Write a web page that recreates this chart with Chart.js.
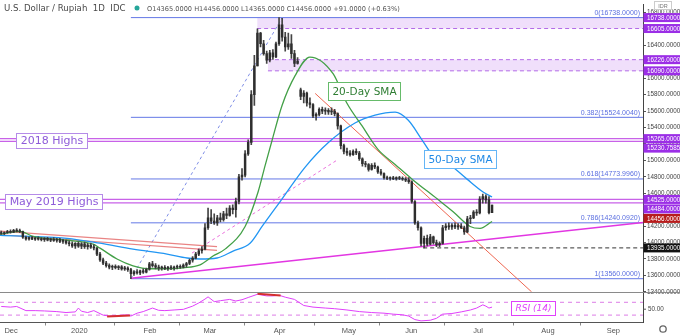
<!DOCTYPE html>
<html>
<head>
<meta charset="utf-8">
<title>USD/IDR</title>
<script src="https://cdn.jsdelivr.net/npm/chart.js@4.4.1/dist/chart.umd.min.js"></script>
<style>
  html, body { margin: 0; background: #ffffff; }
  canvas { display: block; }
</style>
</head>
<body>
<canvas id="usdidr" width="680" height="336"></canvas>
<script>
// daily USD/IDR, bar 0 = 25 Nov 2019 ... bar 159 = 10 Jul 2020 (holidays skipped)
const opens = [
  14120,14110,14120,14135,14125,14150,14140,14135,14065,14045,
  14060,14040,14055,14040,14035,14050,14030,14040,14025,14035,
  14015,14020,13995,13985,13960,13990,13955,13985,13950,13970,
  13945,13935,13860,13790,13750,13720,13700,13710,13695,13705,
  13680,13690,13670,13620,13645,13630,13655,13640,13675,13740,
  13720,13700,13690,13700,13685,13695,13690,13700,13705,13700,
  13725,13745,13785,13810,13860,13900,13920,14180,14300,14260,
  14240,14300,14280,14350,14330,14420,14400,14500,14800,14820,
  15080,15220,15800,16150,16550,16420,16300,16220,16310,16260,
  16420,16650,16500,16380,16420,16300,16180,15860,15780,15820,
  15700,15680,15540,15560,15620,15600,15610,15590,15600,15570,
  15420,15180,15110,15090,15070,15110,15090,15020,14960,14950,
  14890,14940,14920,14860,14840,14790,14780,14785,14775,14790,
  14780,14770,14760,14740,14500,14240,14180,13990,14050,13980,
  14070,14000,13970,13990,14180,14200,14190,14210,14190,14200,
  14180,14130,14290,14300,14370,14360,14530,14560,14520,14365
];
const highs = [
  14140,14130,14150,14155,14160,14170,14165,14140,14080,14070,
  14075,14065,14070,14060,14060,14065,14055,14060,14050,14050,
  14040,14030,14020,14010,14000,14010,14000,14005,13990,13995,
  13975,13940,13880,13810,13770,13740,13725,13730,13720,13720,
  13710,13705,13685,13660,13670,13665,13680,13690,13760,13770,
  13745,13725,13715,13720,13710,13720,13715,13725,13730,13740,
  13760,13800,13830,13880,13920,13950,14230,14420,14400,14350,
  14330,14360,14380,14420,14450,14460,14540,14830,14900,15120,
  15250,15850,16280,16600,16560,16460,16330,16340,16350,16440,
  16738,16730,16560,16550,16530,16340,16250,15880,15850,15830,
  15760,15690,15580,15640,15650,15640,15630,15640,15620,15580,
  15430,15200,15150,15120,15130,15140,15110,15030,14990,14960,
  14960,14970,14930,14890,14850,14810,14800,14805,14800,14805,
  14800,14790,14790,14750,14510,14260,14190,14080,14090,14100,
  14080,14030,14010,14210,14230,14240,14230,14240,14230,14230,
  14200,14320,14330,14390,14400,14560,14590,14580,14560,14456
];
const lows = [
  14100,14095,14110,14115,14120,14130,14120,14050,14030,14030,
  14035,14025,14030,14020,14015,14020,14010,14015,14005,14000,
  13990,13980,13960,13940,13930,13940,13925,13930,13920,13930,
  13910,13840,13770,13730,13700,13680,13670,13680,13670,13665,
  13660,13650,13560,13600,13615,13610,13625,13630,13665,13700,
  13680,13660,13665,13670,13660,13670,13665,13680,13685,13690,
  13700,13730,13760,13800,13840,13870,13910,14160,14230,14220,
  14210,14250,14260,14290,14320,14350,14310,14470,14760,14800,
  15060,15190,15670,16150,16380,16280,16180,16200,16230,16250,
  16400,16450,16330,16350,16240,16140,16170,15740,15700,15660,
  15640,15520,15490,15540,15570,15560,15560,15555,15540,15380,
  15140,15080,15060,15050,15060,15070,15000,14930,14920,14870,
  14880,14900,14840,14820,14770,14765,14760,14765,14760,14765,
  14755,14740,14720,14480,14220,14150,13960,13935,13960,13970,
  13980,13950,13950,13980,14150,14160,14160,14170,14160,14170,
  14100,14120,14230,14290,14330,14350,14480,14480,14350,14365
];
const closes = [
  14110,14120,14135,14125,14150,14140,14135,14065,14045,14060,
  14040,14055,14040,14035,14050,14030,14040,14025,14035,14015,
  14020,13995,13985,13960,13990,13955,13985,13950,13970,13945,
  13935,13860,13790,13750,13720,13700,13710,13695,13705,13680,
  13690,13670,13620,13645,13630,13655,13640,13675,13740,13720,
  13700,13690,13700,13685,13695,13690,13700,13705,13700,13725,
  13745,13785,13810,13860,13900,13920,14180,14300,14260,14240,
  14300,14280,14350,14330,14420,14400,14500,14800,14820,15080,
  15220,15800,16150,16550,16420,16300,16220,16310,16260,16420,
  16650,16500,16380,16420,16300,16180,16210,15780,15820,15700,
  15680,15540,15560,15620,15600,15610,15590,15600,15570,15420,
  15180,15110,15090,15070,15110,15090,15020,14960,14950,14890,
  14940,14920,14860,14840,14790,14780,14785,14775,14790,14780,
  14770,14760,14740,14500,14240,14180,13990,14050,13980,14070,
  14000,13970,13990,14180,14200,14190,14210,14190,14200,14180,
  14130,14290,14300,14370,14360,14530,14560,14520,14365,14456
];

// moving averages and RSI, read at bar positions
const sma20Bars = [-0.4, 6.1, 10.3, 21.3, 29.8, 32, 37.5, 42.7, 48.2, 53.7, 58.9, 64.4, 68.6, 72.5, 79,
  83.2, 85.5, 87.7, 91, 95.2, 100, 107.5, 112, 116.9, 122.1, 127.6, 133.1, 141.2, 146.4, 151.9, 155.1, 159];
const sma20Values = [14100, 14136, 14076, 14028, 13980, 13932, 13800, 13717, 13681, 13681, 13693, 13729, 13836, 13920, 14196,
  14616, 14940, 15239, 15671, 16031, 16258, 16055, 15695, 15419, 15131, 14951, 14772, 14532, 14376, 14196, 14172, 14256];
const sma50Bars = [-0.4, 21.3, 32, 42.7, 53.7, 60.2, 64.4, 69.9, 75.1, 80.6, 84.5, 90.3, 98.4, 105.9, 114.6,
  121.1, 127.6, 131.8, 136.3, 139.6, 144.4, 150.9, 156.1, 159];
const sma50Values = [14088, 14052, 13992, 13920, 13860, 13812, 13800, 13812, 13896, 13992, 14196, 14496, 14916, 15215, 15455,
  15551, 15587, 15491, 15251, 15071, 14975, 14772, 14616, 14556];
const rsiBars = [0, 3, 5, 8, 11, 14, 18, 21, 24, 25, 26, 28, 30, 33, 35, 38, 41, 42, 44, 46,
  49, 51, 53, 56, 59, 62, 64, 66, 67, 69, 71, 74, 76, 78, 80, 83, 86, 88, 90, 92,
  95, 98, 101, 105, 108, 112, 116, 120, 124, 127, 130, 132, 134, 136, 139, 141, 143, 146, 149, 152,
  154, 156, 157, 158, 159];
const rsiValues = [57, 55, 57, 44, 44, 43, 41, 38, 40, 52, 42, 38, 44, 30, 27, 29, 31, 27, 36, 41,
  52, 45, 44, 46, 48, 58, 68, 80, 87, 72, 75, 79, 74, 78, 85, 95, 90, 90, 92, 86,
  79, 60, 55, 52, 50, 46, 41, 38, 36, 33, 31, 27, 16, 12, 14, 20, 33, 35, 40, 46,
  52, 62, 58, 52, 55];

// drawn levels
const fibNames = ['0', '0.382', '0.618', '0.786', '1'];
const fibLevels = [16738, 15524.004, 14773.996, 14240.092, 13560];
const highs2018 = [15265, 15230.7585];
const highsMay2019 = [14525, 14484];
const zoneTop = [16738, 16226];
const zoneBottom = [16605, 16090];
const zoneStart = [82.9, 86.4];
const supportLevel = 13935;

// right-axis value tags
const markerValues = [16738, 16605, 16226, 16090, 15265, 15230.7585, 14525, 14484, 14456, 13935];
const markerColors = ['#9b2ee6', '#9b2ee6', '#9b2ee6', '#9b2ee6', '#9b2ee6', '#9b2ee6', '#9b2ee6', '#9b2ee6', '#b71c1c', '#111111'];

// axes
const monthBars = [3.2, 25.3, 48.2, 67.6, 90.2, 112.6, 132.8, 154.5, 177.1, 198.3];
const monthLabels = ['Dec', '2020', 'Feb', 'Mar', 'Apr', 'May', 'Jun', 'Jul', 'Aug', 'Sep'];
const priceTicks = [13400, 13600, 13800, 14000, 14200, 14400, 14600, 14800, 15000, 15200,
  15400, 15600, 15800, 16000, 16200, 16400, 16600, 16800];

const X_END = 207.9;
const zoneFill = 'rgba(200,140,240,0.28)';

function seg(x1, y1, x2, y2) {
  return [{ x: x1, y: y1 }, { x: x2, y: y2 }];
}
function lineSet(data, color, extra) {
  return Object.assign({
    type: 'line', data: data, borderColor: color, borderWidth: 1,
    pointRadius: 0, fill: false, tension: 0, order: 8
  }, extra || {});
}

const datasets = [
  lineSet(seg(zoneStart[0], zoneTop[0], X_END, zoneTop[0]), 'rgba(0,0,0,0)', { borderWidth: 0, order: 20 }),
  lineSet(seg(zoneStart[0], zoneBottom[0], X_END, zoneBottom[0]), '#b36ae8',
    { borderDash: [4, 3], fill: '-1', backgroundColor: zoneFill, order: 20 }),
  lineSet(seg(zoneStart[1], zoneTop[1], X_END, zoneTop[1]), '#b36ae8', { borderDash: [4, 3], order: 20 }),
  lineSet(seg(zoneStart[1], zoneBottom[1], X_END, zoneBottom[1]), '#b36ae8',
    { borderDash: [4, 3], fill: '-1', backgroundColor: zoneFill, order: 20 }),
  ...highs2018.map(v => lineSet(seg(-0.4, v, X_END, v), '#c862e8', { borderWidth: 1.2, order: 12 })),
  ...highsMay2019.map(v => lineSet(seg(-0.4, v, X_END, v), '#c862e8', { borderWidth: 1.2, order: 12 })),
  ...fibLevels.map(v => lineSet(seg(42, v, X_END, v), '#6478e6', { order: 12 })),
  lineSet(seg(42, fibLevels[4], 91, fibLevels[0]), '#7f8ee6', { borderDash: [3, 3], order: 10 }),
  lineSet(seg(136.7, supportLevel, X_END, supportLevel), '#333333', { borderDash: [4, 3], order: 10 }),
  // trend lines
  lineSet(seg(42, 13565, X_END, 14245), '#e236e2', { borderWidth: 1.6, order: 9 }),
  lineSet(seg(-0.4, 14140, 69.9, 13950), 'rgba(229,110,110,0.85)', { borderWidth: 1.2, order: 9 }),
  lineSet(seg(-0.4, 14095, 69.9, 13905), 'rgba(229,110,110,0.85)', { borderWidth: 1.2, order: 9 }),
  lineSet(seg(61.8, 13872, 109.1, 15011), '#ea6fdc', { borderDash: [3, 3], order: 9 }),
  lineSet(seg(101.7, 15815, 171.8, 13400), '#ee6650', { order: 9 }),
  // moving averages
  lineSet(sma20Bars.map((b, i) => ({ x: b, y: sma20Values[i] })), '#43a047',
    { borderWidth: 1.3, cubicInterpolationMode: 'monotone', order: 4 }),
  lineSet(sma50Bars.map((b, i) => ({ x: b, y: sma50Values[i] })), '#2196f3',
    { borderWidth: 1.3, cubicInterpolationMode: 'monotone', order: 4 }),
  // RSI pane
  lineSet(seg(-0.4, 70, X_END, 70), '#dc7ce6', { borderDash: [4, 4], yAxisID: 'yr', order: 6 }),
  lineSet(seg(-0.4, 30, X_END, 30), '#dc7ce6', { borderDash: [4, 4], yAxisID: 'yr', order: 6 }),
  lineSet(rsiBars.map((b, i) => ({ x: b, y: rsiValues[i] })), '#e040fb', { yAxisID: 'yr', order: 5 }),
  lineSet(seg(34.3, 25.5, 41.7, 29), '#d32f2f', { borderWidth: 2, yAxisID: 'yr', order: 3 }),
  lineSet(seg(83, 97, 90.5, 91), '#d32f2f', { borderWidth: 2, yAxisID: 'yr', order: 3 }),
  // candles: wick then body
  {
    type: 'bar', data: highs.map((h, i) => ({ x: i, y: [lows[i], h] })),
    backgroundColor: '#444444', barThickness: 1, grouped: false, order: 2
  },
  {
    type: 'bar', data: opens.map((o, i) => ({ x: i, y: [o, closes[i]] })),
    backgroundColor: '#2e2e2e', barThickness: 1.8, grouped: false, minBarLength: 1, order: 1
  }
];

function tagBox(ctx, text, x0, cy, font, color, border, h, centered) {
  ctx.font = font;
  const w = Math.round(ctx.measureText(text).width + 8);
  const left = Math.round(centered ? x0 - w / 2 : x0);
  const top = Math.round(cy - h / 2);
  ctx.fillStyle = '#ffffff';
  ctx.fillRect(left, top, w, h);
  ctx.strokeStyle = border;
  ctx.lineWidth = 1;
  ctx.strokeRect(left + 0.5, top + 0.5, w, h);
  ctx.fillStyle = color;
  ctx.textAlign = 'center';
  ctx.textBaseline = 'middle';
  ctx.fillText(text, left + w / 2 + 0.5, top + h / 2 + 1);
}

const overlay = {
  id: 'overlay',
  afterDraw(chart) {
    const ctx = chart.ctx;
    const a = chart.chartArea;
    const x = chart.scales.x, y = chart.scales.y, yr = chart.scales.yr;
    ctx.save();

    // pane separator
    ctx.strokeStyle = '#8a8a8a';
    ctx.lineWidth = 1;
    ctx.beginPath();
    ctx.moveTo(0, 292.5);
    ctx.lineTo(680, 292.5);
    ctx.stroke();

    // fibonacci captions
    ctx.font = '7px "Liberation Sans"';
    ctx.fillStyle = '#5b6fe0';
    ctx.textAlign = 'right';
    ctx.textBaseline = 'bottom';
    fibLevels.forEach((v, i) => {
      ctx.fillText(fibNames[i] + '(' + v.toFixed(4) + ')', a.right - 3, y.getPixelForValue(v) - 1);
    });

    // text call-outs
    tagBox(ctx, '2018 Highs', x.getPixelForValue(4.8), y.getPixelForValue(15248), '11px "DejaVu Sans"', '#8e5bd9', '#b58be8', 15, false);
    tagBox(ctx, 'May 2019 Highs', x.getPixelForValue(1.25), y.getPixelForValue(14504), '11px "DejaVu Sans"', '#8e5bd9', '#b58be8', 15, false);
    tagBox(ctx, '20-Day SMA', x.getPixelForValue(117.6), y.getPixelForValue(15839), '500 10.5px "DejaVu Sans"', '#2e7d32', '#66bb6a', 18, true);
    tagBox(ctx, '50-Day SMA', x.getPixelForValue(148.5), y.getPixelForValue(15011), '500 10.5px "DejaVu Sans"', '#1e88e5', '#64b5f6', 18, true);
    tagBox(ctx, 'RSI (14)', x.getPixelForValue(172.3), yr.getPixelForValue(51.5), 'italic 9px "DejaVu Sans"', '#e040fb', '#e040fb', 14, true);

    // header
    ctx.textAlign = 'left';
    ctx.textBaseline = 'middle';
    ctx.fillStyle = '#4a4a4a';
    ctx.font = '8.6px "DejaVu Sans"';
    ctx.fillText('U.S. Dollar / Rupiah  1D  IDC', 4, 9);
    ctx.fillStyle = '#26a69a';
    ctx.beginPath();
    ctx.arc(137, 8, 2.5, 0, Math.PI * 2);
    ctx.fill();
    ctx.fillStyle = '#555555';
    ctx.font = '6.6px "DejaVu Sans"';
    ctx.fillText('O14365.0000 H14456.0000 L14365.0000 C14456.0000 +91.0000 (+0.63%)', 147, 9);

    // right-axis value tags, pushed apart when they collide
    const tags = markerValues.map((v, i) => ({ v: v, c: markerColors[i], py: y.getPixelForValue(v) }))
      .sort((p, q) => p.py - q.py);
    for (let i = 1; i < tags.length; i++) {
      if (tags[i].py < tags[i - 1].py + 9.5) tags[i].py = tags[i - 1].py + 9.5;
    }
    ctx.font = '6.3px "Liberation Sans"';
    ctx.textBaseline = 'middle';
    tags.forEach(t => {
      ctx.fillStyle = t.c;
      ctx.fillRect(a.right + 0.5, t.py - 4.5, 680 - a.right, 9);
      ctx.fillStyle = '#ffffff';
      ctx.fillText(t.v.toFixed(4), a.right + 4, t.py + 0.5);
    });

    // RSI scale label
    const r50 = yr.getPixelForValue(50);
    ctx.strokeStyle = '#555555';
    ctx.beginPath();
    ctx.moveTo(a.right, r50 + 0.5);
    ctx.lineTo(a.right + 3, r50 + 0.5);
    ctx.stroke();
    ctx.fillStyle = '#444444';
    ctx.fillText('50.00', a.right + 5, r50 + 0.5);

    // currency badge and settings ring
    ctx.fillStyle = '#ffffff';
    ctx.fillRect(654.5, 1.5, 17, 8);
    ctx.strokeStyle = '#cccccc';
    ctx.strokeRect(654.5, 1.5, 17, 8);
    ctx.fillStyle = '#777777';
    ctx.font = '5.5px "Liberation Sans"';
    ctx.textAlign = 'center';
    ctx.fillText('IDR', 663, 6);
    ctx.strokeStyle = '#666666';
    ctx.lineWidth = 1.3;
    ctx.beginPath();
    ctx.arc(663, 329, 3.2, 0, Math.PI * 2);
    ctx.stroke();

    ctx.restore();
  }
};

Chart.defaults.font.family = '"Liberation Sans", sans-serif';

new Chart(document.getElementById('usdidr').getContext('2d'), {
  type: 'bar',
  data: { datasets: datasets },
  options: {
    responsive: false,
    devicePixelRatio: 1,
    animation: false,
    events: [],
    layout: { padding: 0 },
    plugins: {
      legend: { display: false },
      tooltip: { enabled: false }
    },
    scales: {
      x: {
        type: 'linear',
        min: -0.4,
        max: X_END,
        offset: false,
        afterBuildTicks: s => { s.ticks = monthBars.map(v => ({ value: v })); },
        afterFit: s => { s.height = 13.5; },
        ticks: {
          autoSkip: false,
          maxRotation: 0,
          padding: 1,
          color: '#555555',
          font: { size: 7.5 },
          callback: (v, i) => monthLabels[i]
        },
        grid: { display: true, drawOnChartArea: false, tickLength: 3, color: '#888888' },
        border: { display: true, color: '#555555' }
      },
      y: {
        type: 'linear',
        position: 'right',
        min: 13027,
        max: 16894,
        afterBuildTicks: s => { s.ticks = priceTicks.map(v => ({ value: v })); },
        afterFit: s => { s.width = 37; },
        ticks: {
          padding: 1,
          color: '#444444',
          font: { size: 6.3 },
          callback: v => Number(v).toFixed(4)
        },
        grid: { display: true, drawOnChartArea: false, tickLength: 3, color: '#555555' },
        border: { display: true, color: '#444444' }
      },
      yr: {
        type: 'linear',
        display: false,
        min: 6.9,
        max: 999.2
      }
    }
  },
  plugins: [overlay]
});
</script>
</body>
</html>
